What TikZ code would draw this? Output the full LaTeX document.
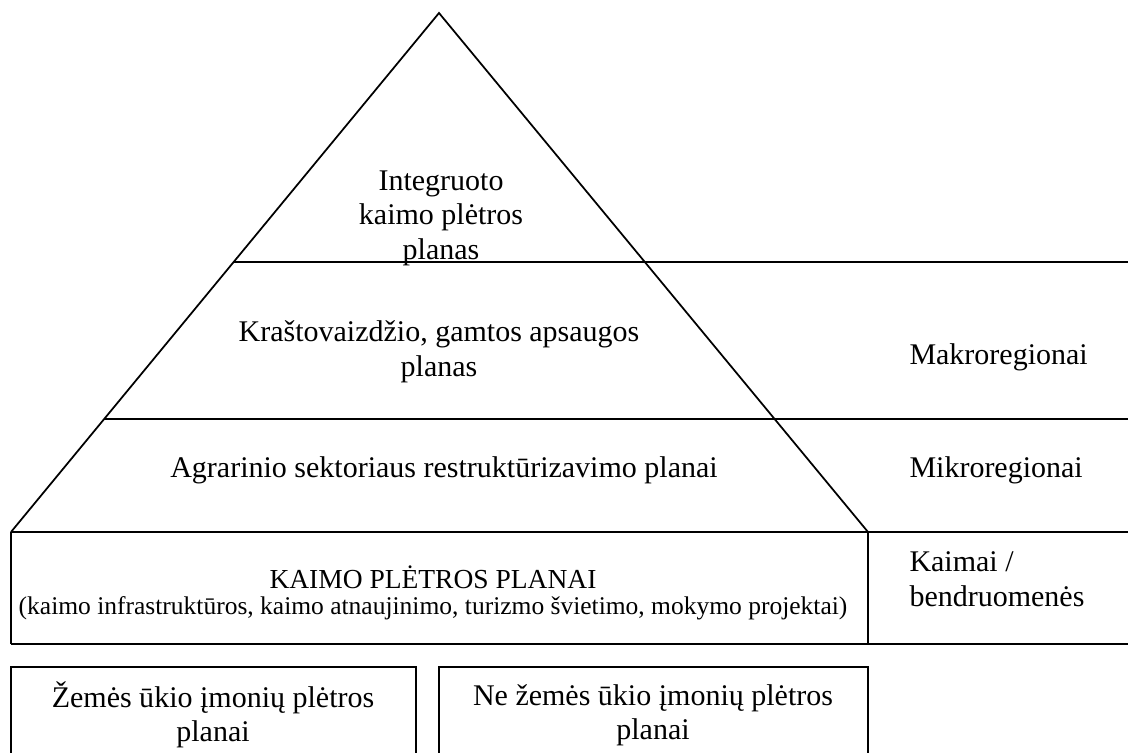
\documentclass[tikz,border=0pt]{standalone}
\usepackage{fontspec}
\setmainfont{Liberation Serif}
\begin{document}
\begin{tikzpicture}[x=0.4pt,y=-0.4pt,
  ln/.style={line width=0.7pt,black},
  lbl/.style={font=\fontsize{12}{13.8}\selectfont,align=center,inner sep=0pt},
  sidelbl/.style={font=\fontsize{12}{13.8}\selectfont,align=left,anchor=west,inner sep=0pt},
  small/.style={font=\fontsize{11}{10.2}\selectfont,align=center,inner sep=0pt}]
\useasboundingbox (0,0) rectangle (1128,753);
\clip (0,0) rectangle (1128,753);
% pyramid
\coordinate (apex) at (439,13);
\coordinate (bl) at (11,532);
\coordinate (br) at (868,532);
\draw[ln] (bl) -- (apex) -- (br);
% horizontal levels
\draw[ln] (234,262) -- (1128,262);
\draw[ln] (104,419) -- (1128,419);
\draw[ln] (11,532) -- (1128,532);
\draw[ln] (11,644) -- (1128,644);
\draw[ln] (11,532) -- (11,644);
\draw[ln] (868,532) -- (868,644);
% bottom boxes
\draw[ln] (11,667) rectangle (416,770);
\draw[ln] (439,667) rectangle (868,770);
% texts
\node[lbl] (t1) at (441,218) {Integruoto\\kaimo plėtros\\planas};
\node[lbl] (t2) at (439,352) {Kraštovaizdžio, gamtos apsaugos\\planas};
\node[lbl] (t3) at (444,470) {Agrarinio sektoriaus restruktūrizavimo planai};
\node[small] (t4) at (433,593) {KAIMO PLĖTROS PLANAI\\{\fontsize{10.2}{10.2}\selectfont(kaimo infrastruktūros, kaimo atnaujinimo, turizmo švietimo, mokymo projektai)}};
\node[sidelbl] (s1) at (909,357) {Makroregionai};
\node[sidelbl] (s2) at (909,470) {Mikroregionai};
\node[sidelbl] (s3) at (909,579) {Kaimai /\\bendruomenės};
\node[lbl] (b1) at (213,715) {Žemės ūkio įmonių plėtros\\planai};
\node[lbl] (b2) at (653,715) {Ne žemės ūkio įmonių plėtros\\planai};
\end{tikzpicture}
\end{document}
